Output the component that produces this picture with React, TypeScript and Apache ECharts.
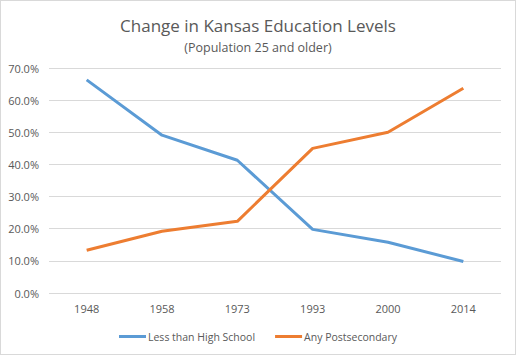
import React, { useEffect, useRef } from "react";
import * as echarts from "echarts";

const years = ["1948", "1958", "1973", "1993", "2000", "2014"];
const lessThanHS = [66.3, 49.1, 41.3, 19.8, 15.8, 9.8];
const postsecondary = [13.3, 19.2, 22.3, 45.0, 50.0, 63.7];
const seriesNames = ["Less than High School", "Any Postsecondary"];

export default function App() {
  const ref = useRef<HTMLDivElement>(null);
  useEffect(() => {
    if (!ref.current) return;
    const chart = echarts.init(ref.current, undefined, { renderer: "svg" });
    const font = "Open Sans, Noto Sans, sans-serif";
    chart.setOption({
      animation: false,
      backgroundColor: "#ffffff",
      title: [
        {
          text: "Change in Kansas Education Levels",
          left: "center",
          top: 11,
          textStyle: { fontFamily: font, fontSize: 17, fontWeight: "normal", color: "#595959" },
        },
        {
          text: "(Population 25 and older)",
          left: "center",
          top: 35,
          textStyle: { fontFamily: font, fontSize: 12.5, fontWeight: "normal", color: "#595959" },
        },
      ],
      legend: {
        bottom: 7,
        left: "center",
        itemWidth: 27,
        itemHeight: 3,
        itemGap: 20,
        icon: "rect",
        textStyle: { fontFamily: font, fontSize: 10.5, color: "#595959", padding: [0, 0, 0, -3] },
        data: seriesNames,
      },
      grid: { left: 48, right: 14, top: 67, bottom: 61, containLabel: false },
      xAxis: {
        type: "category",
        data: years,
        boundaryGap: true,
        axisLine: { show: false },
        axisTick: { show: false },
        axisLabel: { fontFamily: font, fontSize: 11, color: "#595959", margin: 10 },
      },
      yAxis: {
        type: "value",
        min: 0,
        max: 70,
        interval: 10,
        axisLine: { show: false },
        axisTick: { show: false },
        splitLine: { lineStyle: { color: "#d9d9d9", width: 1 } },
        axisLabel: {
          fontFamily: font,
          fontSize: 11,
          color: "#595959",
          margin: 10,
          formatter: (v: number) => v.toFixed(1) + "%",
        },
      },
      series: [
        {
          name: seriesNames[0],
          type: "line",
          data: lessThanHS,
          showSymbol: false,
          symbol: "none",
          color: "#5B9BD5",
          lineStyle: { width: 3, color: "#5B9BD5" },
        },
        {
          name: seriesNames[1],
          type: "line",
          data: postsecondary,
          showSymbol: false,
          symbol: "none",
          color: "#ED7D31",
          lineStyle: { width: 3, color: "#ED7D31" },
        },
      ],
    });
    return () => chart.dispose();
  }, []);
  return (
    <div
      style={{
        position: "absolute",
        left: 0,
        top: 0,
        width: 516,
        height: 355,
        boxSizing: "border-box",
        border: "1px solid #d9d9d9",
        background: "#fff",
      }}
    >
      <div ref={ref} style={{ width: 514, height: 353 }} />
    </div>
  );
}
